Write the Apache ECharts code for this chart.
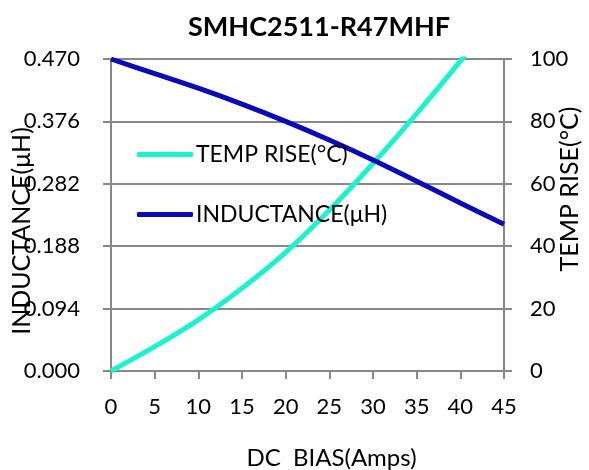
<!DOCTYPE html>
<html><head><meta charset="utf-8">
<script src="https://cdn.jsdelivr.net/npm/echarts@6/dist/echarts.min.js"></script>
<style>html,body{margin:0;padding:0;background:#fff}#c{width:589px;height:470px}</style>
</head><body><div id="c"></div>
<script>
var bias = [0, 5, 10, 15, 20, 25, 30, 35, 40, 45];
var inductance = [0.470, 0.448, 0.426, 0.402, 0.376, 0.348, 0.318, 0.286, 0.253, 0.221];
var tempRise = [0, 7.8, 16.4, 26.5, 38, 51.5, 66.5, 82.5, 99.3, 117];
var leftTicks = ['0.000', '0.094', '0.188', '0.282', '0.376', '0.470'];

var FONT = 'Lato, "Open Sans", sans-serif';
var chart = echarts.init(document.getElementById('c'));
chart.setOption({
  animation: false,
  title: {
    text: 'SMHC2511-R47MHF', left: 314, top: 9, textAlign: 'center',
    textStyle: {fontFamily: FONT, fontSize: 27, fontWeight: 'bold', color: '#000'}
  },
  legend: {
    orient: 'vertical', left: 132, top: 138, itemGap: 37, itemWidth: 56, itemHeight: 5,
    icon: 'roundRect',
    data: ['TEMP RISE(°C)', 'INDUCTANCE(μH)'],
    textStyle: {fontFamily: FONT, fontSize: 23, color: '#000', padding: [0, 0, 0, -2]}
  },
  graphic: [{
    type: 'text', x: 22, y: 231, rotation: Math.PI / 2, silent: true,
    style: {text: 'INDUCTANCE(μH)', fontFamily: FONT, fontSize: 25, fill: '#000',
      align: 'center', verticalAlign: 'middle'}
  }, {
    type: 'text', x: 570, y: 189, rotation: Math.PI / 2, silent: true,
    style: {text: 'TEMP RISE(°C)', fontFamily: FONT, fontSize: 25, fill: '#000',
      align: 'center', verticalAlign: 'middle'}
  }],
  grid: {left: 111, right: 85, top: 59, bottom: 99, containLabel: false, outerBoundsMode: 'none'},
  xAxis: {
    type: 'value', min: 0, max: 45, interval: 5,
    name: 'DC  BIAS(Amps)', nameLocation: 'middle', nameGap: 75,
    nameTextStyle: {fontFamily: FONT, fontSize: 24, color: '#000', padding: [0, 0, 0, 48]},
    axisLine: {show: true, lineStyle: {color: '#888', width: 2}},
    axisTick: {show: true, length: 8, lineStyle: {color: '#888', width: 2}},
    axisLabel: {fontFamily: FONT, fontSize: 22, color: '#000', margin: 25},
    splitLine: {show: false}
  },
  yAxis: [{
    type: 'value', min: 0, max: 0.47, interval: 0.094, position: 'left',
    axisLine: {show: true, lineStyle: {color: '#888', width: 2}},
    axisTick: {show: true, length: 8, lineStyle: {color: '#888', width: 2}},
    axisLabel: {fontFamily: FONT, fontSize: 22, color: '#000', margin: 31,
      formatter: function (v) { return leftTicks[Math.round(v / 0.094)] || ''; }},
    splitLine: {show: true, lineStyle: {color: '#888', width: 2}}
  }, {
    type: 'value', min: 0, max: 100, interval: 20, position: 'right',
    axisLine: {show: true, lineStyle: {color: '#888', width: 2}},
    axisTick: {show: true, length: 8, lineStyle: {color: '#888', width: 2}},
    axisLabel: {fontFamily: FONT, fontSize: 22, color: '#000', margin: 26},
    splitLine: {show: false}
  }],
  series: [{
    name: 'TEMP RISE(°C)', type: 'line', yAxisIndex: 1, smooth: 0.3, showSymbol: false, clip: true,
    data: bias.map(function (x, i) { return [x, tempRise[i]]; }),
    lineStyle: {color: '#1DF2CF', width: 5}, itemStyle: {color: '#1DF2CF'}
  }, {
    name: 'INDUCTANCE(μH)', type: 'line', yAxisIndex: 0, smooth: 0.3, showSymbol: false, clip: true,
    data: bias.map(function (x, i) { return [x, inductance[i]]; }),
    lineStyle: {color: '#0A0AB9', width: 5}, itemStyle: {color: '#0A0AB9'}
  }]
});
</script></body></html>
